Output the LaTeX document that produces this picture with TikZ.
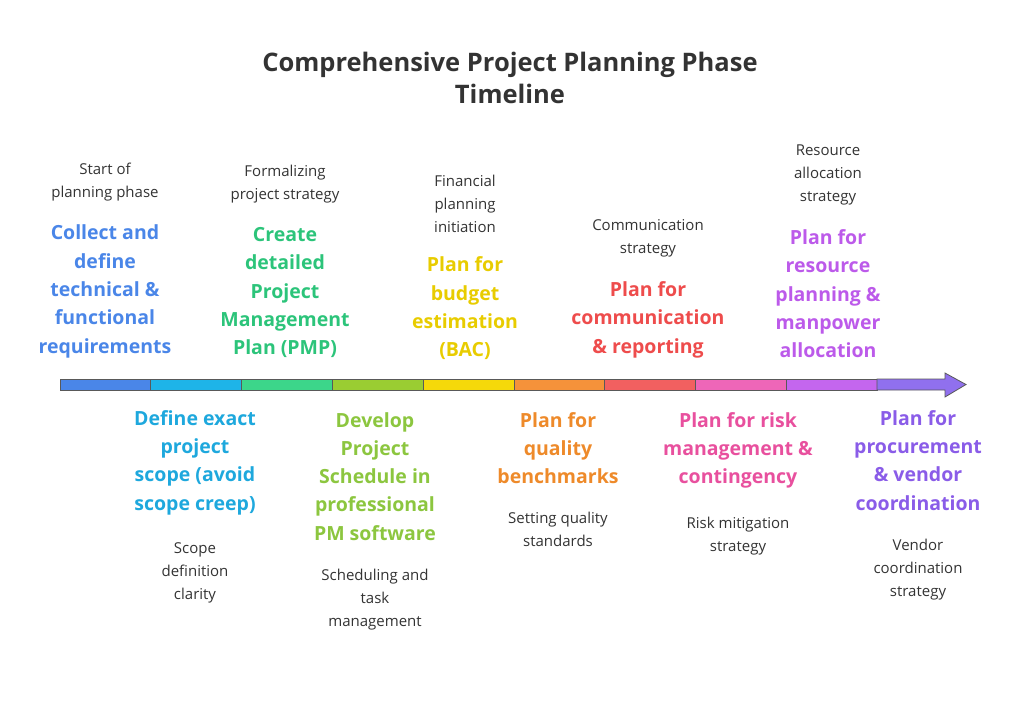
\documentclass[tikz,border=0pt]{standalone}
\usepackage{fontspec}
\setmainfont{Open Sans}
\begin{document}
\begin{tikzpicture}[x=1pt,y=-1pt,
 hd/.style={font=\fontsize{19.5}{28.3}\selectfont\bfseries,align=center,inner sep=2pt},
 sm/.style={font=\fontsize{15}{23}\selectfont,align=center,text=black!80,inner sep=2pt},
 seg/.style={draw=black!65,line width=0.8pt}]
\useasboundingbox (0,0) rectangle (1024,707);
\node[font=\fontsize{25.5}{32}\selectfont\bfseries,align=center,text=black!80] (title) at (510,78) {Comprehensive Project Planning Phase\\Timeline};
\definecolor{c1}{HTML}{4A86E8}\definecolor{c2}{HTML}{1EB4E8}\definecolor{c3}{HTML}{3CD68A}
\definecolor{c4}{HTML}{9ACD32}\definecolor{c5}{HTML}{F5D90A}\definecolor{c6}{HTML}{F5923A}
\definecolor{c7}{HTML}{F26060}\definecolor{c8}{HTML}{EE66B8}\definecolor{c9}{HTML}{C466EE}
\definecolor{c10}{HTML}{9070EE}
\definecolor{h1}{HTML}{4A86E8}\definecolor{h2}{HTML}{1EA8DD}\definecolor{h3}{HTML}{2CC47A}
\definecolor{h4}{HTML}{8CC63F}\definecolor{h5}{HTML}{E8CC00}\definecolor{h6}{HTML}{EE8A2A}
\definecolor{h7}{HTML}{EE4C4C}\definecolor{h8}{HTML}{E8509E}\definecolor{h9}{HTML}{BC5AEA}
\definecolor{h10}{HTML}{8A5CE8}
\foreach \i in {1,...,9}{
 \fill[c\i,seg] ({60+(\i-1)*90.8},379) rectangle ({60+\i*90.8},390);}
\fill[c10,seg] (877,379) -- (945,379) -- (945,373) -- (966,384.5) -- (945,397) -- (945,390) -- (877,390) -- cycle;
% top
\node[hd,text=h1,anchor=south] (t1) at (105,360) {Collect and\\define\\technical \&\\functional\\requirements};
\node[sm,anchor=south] (s1) at ([yshift=20]t1.north) {Start of\\planning phase};
\node[hd,text=h3,anchor=south] (t3) at (285,360) {Create\\detailed\\Project\\Management\\Plan (PMP)};
\node[sm,anchor=south] (s3) at ([yshift=20]t3.north) {Formalizing\\project strategy};
\node[hd,text=h5,anchor=south] (t5) at (465,362) {Plan for\\budget\\estimation\\(BAC)};
\node[sm,anchor=south] (s5) at ([yshift=20]t5.north) {Financial\\planning\\initiation};
\node[hd,text=h7,anchor=south] (t7) at (648,360) {Plan for\\communication\\\& reporting};
\node[sm,anchor=south] (s7) at ([yshift=20]t7.north) {Communication\\strategy};
\node[hd,text=h9,anchor=south] (t9) at (828,360) {Plan for\\resource\\planning \&\\manpower\\allocation};
\node[sm,anchor=south] (s9) at ([yshift=20]t9.north) {Resource\\allocation\\strategy};
% bottom
\node[hd,text=h2,anchor=north] (b2) at (195,408) {Define exact\\project\\scope (avoid\\scope creep)};
\node[sm,anchor=north] (u2) at ([yshift=-24]b2.south) {Scope\\definition\\clarity};
\node[hd,text=h4,anchor=north] (b4) at (375,410) {Develop\\Project\\Schedule in\\professional\\PM software};
\node[sm,anchor=north] (u4) at ([yshift=-24]b4.south) {Scheduling and\\task\\management};
\node[hd,text=h6,anchor=north] (b6) at (558,410) {Plan for\\quality\\benchmarks};
\node[sm,anchor=north] (u6) at ([yshift=-24]b6.south) {Setting quality\\standards};
\node[hd,text=h8,anchor=north] (b8) at (738,410) {Plan for risk\\management \&\\contingency};
\node[sm,anchor=north] (u8) at ([yshift=-24]b8.south) {Risk mitigation\\strategy};
\node[hd,text=h10,anchor=north] (b10) at (918,408) {Plan for\\procurement\\\& vendor\\coordination};
\node[sm,anchor=north] (u10) at ([yshift=-24]b10.south) {Vendor\\coordination\\strategy};
\end{tikzpicture}
\end{document}
